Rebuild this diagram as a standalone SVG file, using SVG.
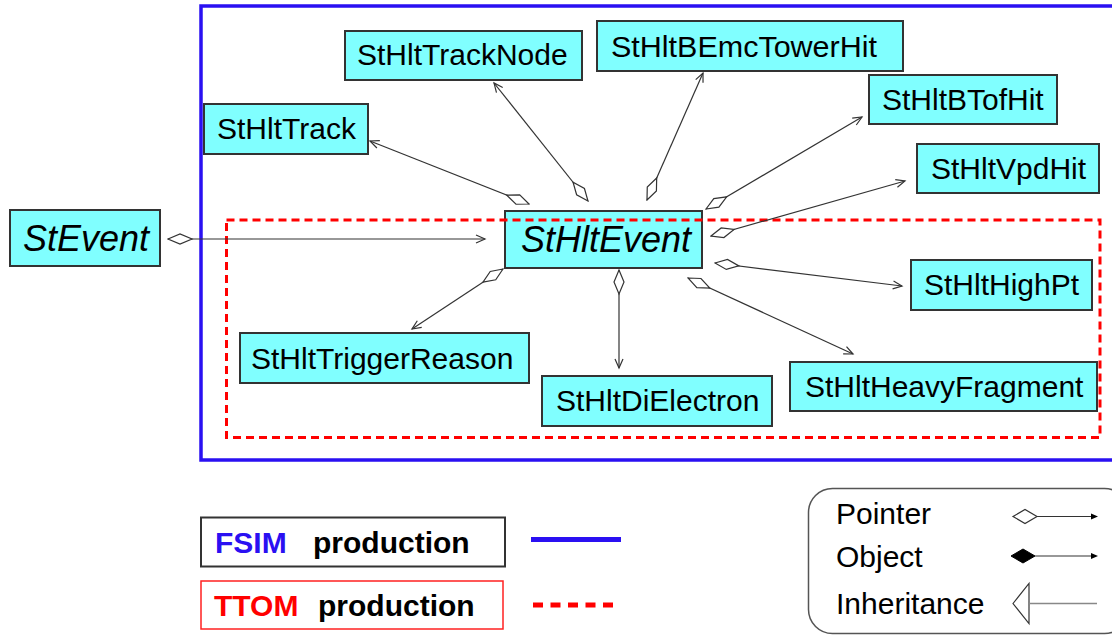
<svg xmlns="http://www.w3.org/2000/svg" width="1112" height="635" viewBox="0 0 1112 635">
  <style>
    .node rect { fill: #80ffff; stroke: #333333; stroke-width: 2; }
    .node text { font-family: "Liberation Sans", Arial, sans-serif; font-size: 30px; fill: #000000; }
    .node text.abs { font-style: italic; font-size: 36px; }
    .conn line { stroke: #333333; stroke-width: 1.2; fill: none; marker-start: url(#ptr); marker-end: url(#arr); }
    .legend text { font-family: "Liberation Sans", Arial, sans-serif; font-size: 30px; }
    .legend .bold { font-weight: bold; }
  </style>
  <defs>
    <!-- hollow aggregation diamond, tip sits on the owning class -->
    <marker id="ptr" markerUnits="userSpaceOnUse" markerWidth="28" markerHeight="14" viewBox="-1 -7 28 14" refX="0" refY="0" orient="auto">
      <path d="M0,0 L12,-5 L24,0 L12,5 Z" fill="#ffffff" stroke="#333333" stroke-width="1.2"/>
    </marker>
    <!-- open arrowhead -->
    <marker id="arr" markerUnits="userSpaceOnUse" markerWidth="14" markerHeight="12" viewBox="-12 -6 14 12" refX="0" refY="0" orient="auto">
      <path d="M-9,-4 L0,0 L-9,4" fill="none" stroke="#333333" stroke-width="1.2"/>
    </marker>
  </defs>

  <rect width="1112" height="635" fill="#ffffff"/>

  <!-- FSIM production frame -->
  <rect x="201" y="6" width="960" height="454" fill="none" stroke="#2a10f2" stroke-width="3.5"/>

  <!-- classes -->
  <g id="StEvent" class="node">
    <rect x="10" y="210" width="150" height="56"/>
    <text class="abs" x="23" y="251">StEvent</text>
  </g>
  <g id="StHltEvent" class="node">
    <rect x="505" y="211" width="197" height="57"/>
    <text class="abs" x="521" y="252">StHltEvent</text>
  </g>
  <g id="StHltTrackNode" class="node">
    <rect x="345" y="31" width="237" height="49"/>
    <text x="357" y="65">StHltTrackNode</text>
  </g>
  <g id="StHltTrack" class="node">
    <rect x="204" y="104" width="164" height="50"/>
    <text x="217" y="139">StHltTrack</text>
  </g>
  <g id="StHltBEmcTowerHit" class="node">
    <rect x="597" y="21" width="306" height="50"/>
    <text x="611" y="57" textLength="266" lengthAdjust="spacingAndGlyphs">StHltBEmcTowerHit</text>
  </g>
  <g id="StHltBTofHit" class="node">
    <rect x="869" y="75" width="188" height="49"/>
    <text x="882" y="109.5">StHltBTofHit</text>
  </g>
  <g id="StHltVpdHit" class="node">
    <rect x="917" y="144" width="182" height="49"/>
    <text x="931" y="178.5">StHltVpdHit</text>
  </g>
  <g id="StHltHighPt" class="node">
    <rect x="911" y="260" width="181" height="50"/>
    <text x="924" y="295">StHltHighPt</text>
  </g>
  <g id="StHltTriggerReason" class="node">
    <rect x="240" y="333" width="289" height="50"/>
    <text x="251" y="368.5">StHltTriggerReason</text>
  </g>
  <g id="StHltDiElectron" class="node">
    <rect x="542" y="376" width="230" height="50"/>
    <text x="556" y="411">StHltDiElectron</text>
  </g>
  <g id="StHltHeavyFragment" class="node">
    <rect x="790" y="362" width="307" height="49"/>
    <text x="805" y="397">StHltHeavyFragment</text>
  </g>

  <!-- TTOM production frame -->
  <rect x="226.5" y="220" width="873.5" height="217.5" fill="none" stroke="#ff0000" stroke-width="3" stroke-dasharray="8 5"/>

  <!-- pointer associations -->
  <g id="connectors" class="conn">
    <line x1="168" y1="239" x2="485" y2="239"/>
    <line x1="529" y1="204" x2="370" y2="141"/>
    <line x1="588" y1="201" x2="494" y2="83"/>
    <line x1="647" y1="200" x2="703" y2="73"/>
    <line x1="706" y1="209" x2="862" y2="117"/>
    <line x1="711" y1="236" x2="905" y2="181"/>
    <line x1="715" y1="263" x2="902" y2="286"/>
    <line x1="688" y1="278" x2="853" y2="354"/>
    <line x1="619" y1="270" x2="619" y2="368"/>
    <line x1="503" y1="269" x2="412" y2="329"/>
  </g>

  <!-- production legend -->
  <g id="production-legend" class="legend">
    <rect x="201" y="517.5" width="304" height="49" fill="#ffffff" stroke="#333333" stroke-width="2"/>
    <text class="bold" x="215" y="553" fill="#2a10f2">FSIM</text>
    <text class="bold" x="313" y="553" fill="#000000">production</text>
    <line x1="531" y1="539.5" x2="621" y2="539.5" stroke="#2a10f2" stroke-width="5"/>

    <rect x="201" y="581" width="302" height="48" fill="#ffffff" stroke="#ff2020" stroke-width="1.5"/>
    <text class="bold" x="214" y="616" fill="#ff0000">TTOM</text>
    <text class="bold" x="318" y="616" fill="#000000">production</text>
    <line x1="533" y1="605" x2="614" y2="605" stroke="#ff0000" stroke-width="5" stroke-dasharray="10 7.5"/>
  </g>

  <!-- relation legend -->
  <g id="relation-legend" class="legend">
    <rect x="808.5" y="488.5" width="320" height="145" rx="24" ry="24" fill="#ffffff" stroke="#555555" stroke-width="1.5"/>
    <text x="836" y="524" fill="#000000">Pointer</text>
    <text x="836" y="567" fill="#000000">Object</text>
    <text x="836" y="614" fill="#000000">Inheritance</text>

    <polygon points="1013,516.5 1025,509.5 1037,516.5 1025,523.5" fill="#ffffff" stroke="#333333" stroke-width="1.2"/>
    <line x1="1037" y1="516.5" x2="1093" y2="516.5" stroke="#333333" stroke-width="1.2"/>
    <polygon points="1098,516.5 1091,513.5 1091,519.5" fill="#000000"/>

    <polygon points="1011,556 1023,549 1035,556 1023,563" fill="#000000" stroke="#000000" stroke-width="1"/>
    <line x1="1035" y1="556" x2="1093" y2="556" stroke="#333333" stroke-width="1.2"/>
    <polygon points="1098,556 1091,553 1091,559" fill="#000000"/>

    <polygon points="1013,603.5 1029,583.5 1029,623.5" fill="#ffffff" stroke="#333333" stroke-width="1.2"/>
    <line x1="1029" y1="603.5" x2="1097" y2="603.5" stroke="#888888" stroke-width="1.5"/>
  </g>
</svg>
